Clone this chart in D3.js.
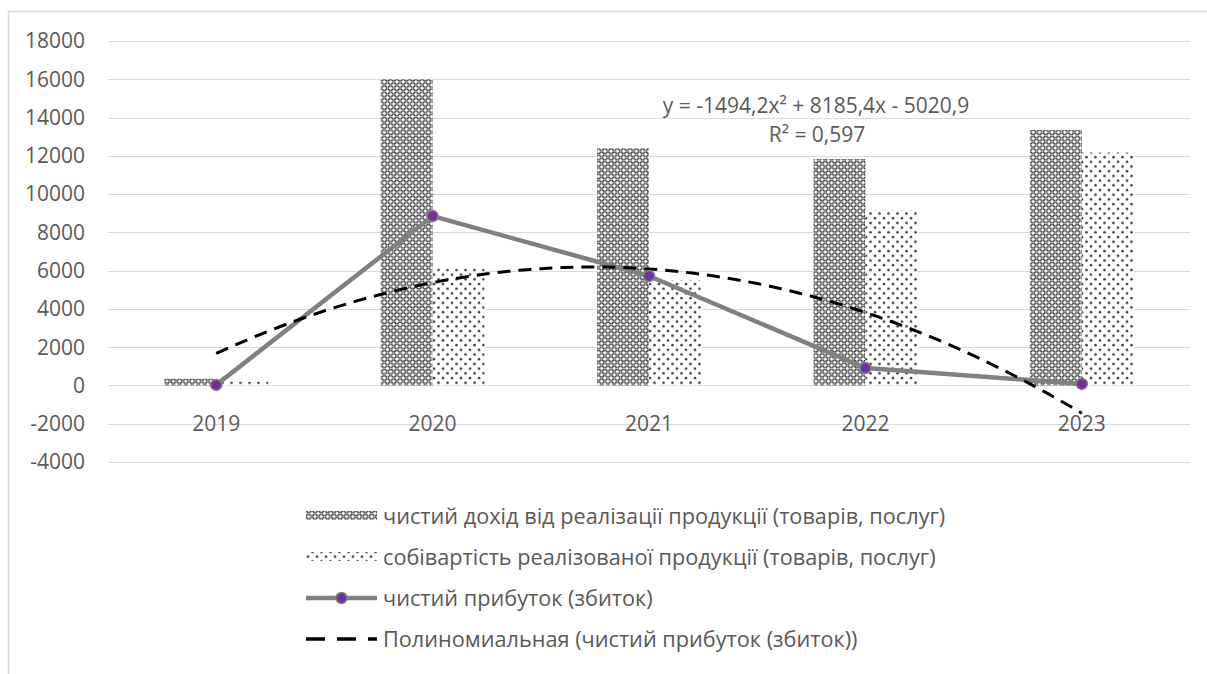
<!DOCTYPE html>
<html><head><meta charset="utf-8">
<script src="https://cdn.jsdelivr.net/npm/d3@7"></script>
<style>
html,body{margin:0;padding:0;background:#fff;}
svg text{font-family:"Open Sans","Liberation Sans",sans-serif;fill:#595959;}
</style></head>
<body><svg id="c" width="1207" height="674"></svg>
<script>
const years = ["2019","2020","2021","2022","2023"];
const revenue = [350, 16000, 12400, 11830, 13350];
const cost = [200, 6100, 5500, 9170, 12170];
const profit = [30, 8850, 5720, 910, 80];
const yTicks = [-4000,-2000,0,2000,4000,6000,8000,10000,12000,14000,16000,18000];
const trendCoef = [-1494.2, 8185.4, -5020.9];
const eqLabel = "y = -1494,2x² + 8185,4x - 5020,9";
const r2Label = "R² = 0,597";
const legendLabels = [
  "чистий дохід від реалізації продукції (товарів, послуг)",
  "собівартість реалізованої продукції (товарів, послуг)",
  "чистий прибуток (збиток)",
  "Полиномиальная (чистий прибуток (збиток))"
];

const svg = d3.select("#c");
const FS = 21;
const FSL = 21.7;
const defs = svg.append("defs");
// revenue pattern
const p1 = defs.append("pattern").attr("id","pRev").attr("patternUnits","userSpaceOnUse").attr("width",6.3).attr("height",6.3);
p1.append("rect").attr("width",6.3).attr("height",6.3).attr("fill","#3c3c3c");
[[0,0],[6.3,0],[0,6.3],[6.3,6.3],[3.15,3.15]].forEach(([cx,cy])=>{
  p1.append("path").attr("d",`M${cx-2.1},${cy}L${cx},${cy-2.1}L${cx+2.1},${cy}L${cx},${cy+2.1}Z`).attr("fill","#fff");
});
[[3.15,0],[0,3.15],[6.3,3.15],[3.15,6.3]].forEach(([cx,cy])=>{
  p1.append("circle").attr("cx",cx).attr("cy",cy).attr("r",1).attr("fill","#bbb");
});
// cost pattern
const p2 = defs.append("pattern").attr("id","pCost").attr("patternUnits","userSpaceOnUse").attr("width",9).attr("height",9.4);
p2.append("rect").attr("width",9).attr("height",9.4).attr("fill","#fff");
p2.append("circle").attr("cx",2).attr("cy",2).attr("r",1.3).attr("fill","#444");
p2.append("circle").attr("cx",6.5).attr("cy",6.7).attr("r",1.3).attr("fill","#444");

// frame
svg.append("rect").attr("x",8.5).attr("y",11.5).attr("width",1250).attr("height",700)
  .attr("fill","#fff").attr("stroke","#d9d9d9").attr("stroke-width",1.5);

const x = d3.scaleBand().domain(years).range([108,1190]).padding(0);
const y = d3.scaleLinear().domain([-4000,18000]).range([462,41]);
const bw = x.bandwidth()*0.24;

// grid
svg.append("g").selectAll("line").data(yTicks).join("line")
  .attr("x1",108).attr("x2",1190).attr("y1",d=>Math.round(y(d))+0.5).attr("y2",d=>Math.round(y(d))+0.5)
  .attr("stroke","#d9d9d9").attr("stroke-width",1);
svg.append("g").selectAll("text").data(yTicks).join("text")
  .attr("x",85).attr("y",d=>y(d)).attr("dy","0.35em").attr("text-anchor","end")
  .attr("font-size",FS).text(d=>d);

// bars
const cx = d=>x(d)+x.bandwidth()/2;
svg.append("g").selectAll("rect").data(years).join("rect")
  .attr("x",(d)=>cx(d)-bw).attr("width",bw)
  .attr("y",(d,i)=>y(revenue[i])).attr("height",(d,i)=>y(0)-y(revenue[i]))
  .attr("fill","url(#pRev)");
svg.append("g").selectAll("rect").data(years).join("rect")
  .attr("x",(d)=>cx(d)).attr("width",bw)
  .attr("y",(d,i)=>y(cost[i])).attr("height",(d,i)=>y(0)-y(cost[i]))
  .attr("fill","url(#pCost)");

// category labels
svg.append("g").selectAll("text").data(years).join("text")
  .attr("x",d=>cx(d)).attr("y",y(-2000)).attr("dy","0.35em").attr("text-anchor","middle")
  .attr("font-size",FS).text(d=>d);

// profit line
const line = d3.line().x((d,i)=>cx(years[i])).y(d=>y(d));
svg.append("path").datum(profit).attr("d",line).attr("fill","none")
  .attr("stroke","#808080").attr("stroke-width",4.5).attr("stroke-linejoin","round");

// trend line
const xi = d3.scaleLinear().domain([1,5]).range([cx(years[0]),cx(years[4])]);
const tpts = d3.range(1,5.001,0.05).map(t=>[xi(t), y(trendCoef[0]*t*t+trendCoef[1]*t+trendCoef[2])]);
svg.append("path").attr("d",d3.line()(tpts)).attr("fill","none")
  .attr("stroke","#000").attr("stroke-width",3).attr("stroke-dasharray","13,8");

// markers
svg.append("g").selectAll("circle").data(profit).join("circle")
  .attr("cx",(d,i)=>cx(years[i])).attr("cy",d=>y(d)).attr("r",5.5)
  .attr("fill","#7030a0").attr("stroke","#808080").attr("stroke-width",1.5);

// equation
svg.append("text").attr("x",816).attr("y",113).attr("text-anchor","middle").attr("font-size",FS).text(eqLabel);
svg.append("text").attr("x",817).attr("y",142).attr("text-anchor","middle").attr("font-size",FS).text(r2Label);

// legend
const ly = [516, 557, 598, 639];
const lg = svg.append("g");
lg.append("rect").attr("x",306).attr("y",ly[0]-5).attr("width",71).attr("height",9).attr("fill","url(#pRev)");
lg.append("rect").attr("x",306).attr("y",ly[1]-5).attr("width",71).attr("height",9).attr("fill","url(#pCost)");
lg.append("line").attr("x1",306).attr("x2",377).attr("y1",ly[2]).attr("y2",ly[2]).attr("stroke","#808080").attr("stroke-width",4.5);
lg.append("circle").attr("cx",341.5).attr("cy",ly[2]).attr("r",5.5).attr("fill","#7030a0").attr("stroke","#808080").attr("stroke-width",1.5);
lg.append("line").attr("x1",306).attr("x2",377).attr("y1",ly[3]).attr("y2",ly[3]).attr("stroke","#000").attr("stroke-width",3.5).attr("stroke-dasharray","19,12");
lg.selectAll("text").data(legendLabels).join("text")
  .attr("x",383).attr("y",(d,i)=>ly[i]).attr("dy","0.35em").attr("font-size",FSL).text(d=>d);
</script></body></html>
